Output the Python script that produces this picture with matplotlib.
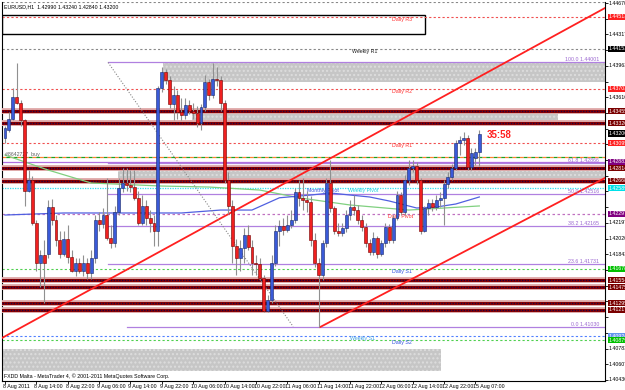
import numpy as np
import matplotlib
matplotlib.use('Agg')
import matplotlib.pyplot as plt
from matplotlib import font_manager
from matplotlib.patches import Rectangle
from matplotlib.transforms import blended_transform_factory

# narrow face for the small MT4 texts, if there is one
installed = {f.name for f in font_manager.fontManager.ttflist}
if 'Liberation Sans Narrow' in installed:
    small_family, fs = 'Liberation Sans Narrow', 4.6
else:
    small_family, fs = 'Liberation Sans', 3.8
plt.rcParams['font.family'] = [small_family, 'DejaVu Sans']

# EURUSD H1 bars, bar 0 = 8 Aug 2011 06:00
opens = [1.4315, 1.4324, 1.4337, 1.4361, 1.4355, 1.4335, 1.4256, 1.4268, 1.4220, 1.4175,
         1.4183, 1.4185, 1.4237, 1.4223, 1.4200, 1.4185, 1.4202, 1.4181, 1.4166, 1.4174,
         1.4166, 1.4175, 1.4163, 1.4180, 1.4223, 1.4218, 1.4229, 1.4203, 1.4197, 1.4232,
         1.4259, 1.4265, 1.4262, 1.4260, 1.4248, 1.4220, 1.4239, 1.4225, 1.4220, 1.4211,
         1.4371, 1.4389, 1.4380, 1.4353, 1.4363, 1.4344, 1.4341, 1.4352, 1.4346, 1.4343,
         1.4332, 1.4350, 1.4378, 1.4363, 1.4382, 1.4380, 1.4354, 1.4268, 1.4239, 1.4194,
         1.4180, 1.4191, 1.4206, 1.4192, 1.4175, 1.4173, 1.4158, 1.4121, 1.4133, 1.4174,
         1.4211, 1.4216, 1.4212, 1.4217, 1.4223, 1.4254, 1.4248, 1.4245, 1.4243, 1.4200,
         1.4175, 1.4161, 1.4197, 1.4265, 1.4236, 1.4211, 1.4208, 1.4214, 1.4228, 1.4237,
         1.4234, 1.4223, 1.4215, 1.4197, 1.4187, 1.4203, 1.4185, 1.4197, 1.4215, 1.4200,
         1.4225, 1.4251, 1.4232, 1.4268, 1.4281, 1.4284, 1.4268, 1.4211, 1.4236, 1.4242,
         1.4237, 1.4245, 1.4248, 1.4263, 1.4271, 1.4281, 1.4309, 1.4313, 1.4315, 1.4282,
         1.4293, 1.4299]
highs = [1.4329, 1.4344, 1.4371, 1.4400, 1.4358, 1.4337, 1.4279, 1.4272, 1.4223, 1.4189,
         1.4200, 1.4245, 1.4247, 1.4228, 1.4211, 1.4211, 1.4217, 1.4189, 1.4180, 1.4180,
         1.4183, 1.4180, 1.4189, 1.4228, 1.4232, 1.4236, 1.4270, 1.4217, 1.4239, 1.4270,
         1.4281, 1.4281, 1.4279, 1.4279, 1.4256, 1.4251, 1.4245, 1.4234, 1.4228, 1.4374,
         1.4395, 1.4393, 1.4385, 1.4374, 1.4369, 1.4360, 1.4360, 1.4358, 1.4354, 1.4351,
         1.4353, 1.4386, 1.4382, 1.4399, 1.4395, 1.4385, 1.4358, 1.4277, 1.4245, 1.4202,
         1.4200, 1.4214, 1.4217, 1.4200, 1.4183, 1.4180, 1.4161, 1.4138, 1.4183, 1.4217,
         1.4223, 1.4225, 1.4228, 1.4234, 1.4259, 1.4268, 1.4270, 1.4256, 1.4250, 1.4208,
         1.4180, 1.4200, 1.4270, 1.4290, 1.4239, 1.4220, 1.4220, 1.4234, 1.4245, 1.4251,
         1.4240, 1.4228, 1.4220, 1.4202, 1.4209, 1.4205, 1.4200, 1.4220, 1.4218, 1.4229,
         1.4256, 1.4254, 1.4273, 1.4290, 1.4290, 1.4288, 1.4270, 1.4239, 1.4247, 1.4247,
         1.4251, 1.4254, 1.4268, 1.4277, 1.4286, 1.4313, 1.4317, 1.4322, 1.4319, 1.4304,
         1.4304, 1.4324]
lows = [1.4310, 1.4322, 1.4335, 1.4353, 1.4329, 1.4239, 1.4254, 1.4217, 1.4166, 1.4147,
        1.4130, 1.4180, 1.4217, 1.4194, 1.4180, 1.4182, 1.4175, 1.4164, 1.4160, 1.4163,
        1.4160, 1.4157, 1.4157, 1.4175, 1.4211, 1.4214, 1.4200, 1.4191, 1.4193, 1.4228,
        1.4254, 1.4256, 1.4254, 1.4245, 1.4217, 1.4217, 1.4217, 1.4209, 1.4194, 1.4194,
        1.4367, 1.4376, 1.4349, 1.4335, 1.4337, 1.4335, 1.4337, 1.4342, 1.4337, 1.4328,
        1.4324, 1.4346, 1.4358, 1.4360, 1.4374, 1.4346, 1.4265, 1.4230, 1.4175, 1.4161,
        1.4166, 1.4175, 1.4189, 1.4161, 1.4161, 1.4155, 1.4119, 1.4119, 1.4129, 1.4171,
        1.4194, 1.4206, 1.4209, 1.4214, 1.4220, 1.4239, 1.4234, 1.4232, 1.4194, 1.4170,
        1.4102, 1.4155, 1.4193, 1.4232, 1.4207, 1.4205, 1.4205, 1.4209, 1.4223, 1.4228,
        1.4218, 1.4211, 1.4193, 1.4183, 1.4183, 1.4180, 1.4182, 1.4193, 1.4197, 1.4197,
        1.4223, 1.4228, 1.4228, 1.4262, 1.4277, 1.4263, 1.4207, 1.4209, 1.4229, 1.4233,
        1.4234, 1.4238, 1.4217, 1.4259, 1.4268, 1.4279, 1.4296, 1.4307, 1.4279, 1.4279,
        1.4285, 1.4284]
closes = [1.4326, 1.4337, 1.4361, 1.4355, 1.4335, 1.4256, 1.4268, 1.4220, 1.4175, 1.4183,
          1.4175, 1.4237, 1.4223, 1.4200, 1.4185, 1.4202, 1.4181, 1.4166, 1.4174, 1.4166,
          1.4175, 1.4163, 1.4180, 1.4223, 1.4218, 1.4229, 1.4203, 1.4197, 1.4232, 1.4259,
          1.4265, 1.4262, 1.4260, 1.4248, 1.4220, 1.4239, 1.4225, 1.4220, 1.4211, 1.4371,
          1.4389, 1.4380, 1.4353, 1.4363, 1.4344, 1.4341, 1.4352, 1.4346, 1.4343, 1.4332,
          1.4350, 1.4378, 1.4363, 1.4382, 1.4380, 1.4354, 1.4268, 1.4239, 1.4194, 1.4180,
          1.4191, 1.4206, 1.4192, 1.4175, 1.4173, 1.4158, 1.4121, 1.4133, 1.4174, 1.4211,
          1.4216, 1.4212, 1.4217, 1.4223, 1.4254, 1.4248, 1.4245, 1.4243, 1.4200, 1.4175,
          1.4161, 1.4197, 1.4265, 1.4236, 1.4211, 1.4208, 1.4214, 1.4228, 1.4237, 1.4234,
          1.4223, 1.4215, 1.4197, 1.4187, 1.4203, 1.4185, 1.4197, 1.4215, 1.4200, 1.4225,
          1.4251, 1.4232, 1.4268, 1.4281, 1.4284, 1.4268, 1.4211, 1.4236, 1.4242, 1.4237,
          1.4245, 1.4248, 1.4263, 1.4271, 1.4281, 1.4309, 1.4313, 1.4315, 1.4282, 1.4298,
          1.4299, 1.4320]

# moving averages (bar index, price)
ma_blue_x = [0, 15, 30, 45, 55, 63, 70, 78, 83, 88, 93, 98, 102, 105, 110, 115, 121]
ma_blue_y = [1.42285, 1.42308, 1.42308, 1.42308, 1.42341, 1.42341, 1.42479, 1.42510, 1.42533,
             1.42510, 1.42488, 1.42443, 1.42398, 1.42364, 1.42375, 1.42409, 1.42488]
ma_green_x = [0, 11, 22, 40, 52, 65, 75, 88, 103, 121]
ma_green_y = [1.42960, 1.42791, 1.42645, 1.42611, 1.42600, 1.42566, 1.42479, 1.42398, 1.42341, 1.42387]

# pivot levels
daily_r3, daily_r2, daily_r1 = 1.44513, 1.43703, 1.43095
daily_pivot, daily_s1, daily_s2 = 1.42297, 1.41678, 1.40879
weekly_r1, weekly_pivot, weekly_s1 = 1.44153, 1.42589, 1.40924
order_price = 1.42938
top_level = 1.44682
purple_level = 1.42882
zone_lines = [1.43455, 1.43320, 1.42814, 1.42668, 1.41554, 1.41475, 1.41295, 1.41217]

# fibonacci retracement
fib_names = ['100.0', '61.8', '50.0', '38.2', '23.6', '0.0']
fib_prices = [1.44001, 1.42866, 1.42516, 1.42165, 1.41731, 1.41030]
fib_start = [26.3, 26.3, 26.3, 26.3, 26.3, 31.1]

# rectangles: (bar from, bar to, price low, price high)
zones = [(40.3, 153.1, 1.43782, 1.44001),
         (47.7, 141.1, 1.43320, 1.43455),
         (28.8, 153.1, 1.42668, 1.42814),
         (-0.8, 111.2, 1.40530, 1.40778)]
r3_box = (-0.8, 107.1, 1.44322, 1.44535)

# trend lines: (bar, price) pairs
channel_upper = ([-0.77, 153.06], [1.40902, 1.44614])
channel_lower = ([80.4, 153.06], [1.41025, 1.42702])
fib_diag = ([26.3, 73.5], [1.44001, 1.41030])

# axes labels
price_ticks = [1.44670, 1.44493, 1.44317, 1.44140, 1.43963, 1.43787, 1.43610, 1.43433, 1.43257,
               1.43080, 1.42903, 1.42727, 1.42550, 1.42373, 1.42197, 1.42020, 1.41843, 1.41667,
               1.41490, 1.41313, 1.41137, 1.40960, 1.40783, 1.40607, 1.40430]
time_ticks = [0, 8, 16, 24, 32, 40, 48, 56, 64, 72, 80, 88, 96, 104, 112, 120]
time_labels = ['8 Aug 2011', '8 Aug 14:00', '8 Aug 22:00', '9 Aug 06:00', '9 Aug 14:00',
               '9 Aug 22:00', '10 Aug 06:00', '10 Aug 14:00', '10 Aug 22:00', '11 Aug 06:00',
               '11 Aug 14:00', '11 Aug 22:00', '12 Aug 06:00', '12 Aug 14:00', '12 Aug 22:00',
               '15 Aug 07:00']
marker_prices = [daily_r3, weekly_r1, daily_r2, 1.43455, 1.43320, closes[-1], daily_r1,
                 purple_level, 1.42814, 1.42668, weekly_pivot, daily_pivot, daily_s1,
                 1.41554, 1.41475, 1.41295, 1.41217, weekly_s1, daily_s2]
marker_colors = ['#ff2020', '#000000', '#ff2020', '#7a0000', '#7a0000', '#000000', '#ff2020',
                 '#800080', '#7a0000', '#7a0000', '#00e0e8', '#800080', '#00c000',
                 '#7a0000', '#7a0000', '#7a0000', '#7a0000', '#6495ed', '#00c000']

title = 'EURUSD,H1  1.42990 1.43240 1.42840 1.43200'

fig = plt.figure(figsize=(6.25, 3.90), dpi=100)
ax = fig.add_axes([2 / 625, 9 / 390, 603 / 625, 379 / 390])
ax.set_xlim(-0.77, 153.06)
ax.set_ylim(1.404178, 1.446815)

# rectangles
for x0, x1, p0, p1 in zones:
    ax.add_patch(Rectangle((x0, p0), x1 - x0, p1 - p0, facecolor='#c6c6c6',
                           edgecolor='#dddddd', hatch='....', linewidth=0, zorder=1))
ax.add_patch(Rectangle((r3_box[0], r3_box[2]), r3_box[1] - r3_box[0], r3_box[3] - r3_box[2],
                       facecolor='white', edgecolor='black', linewidth=1.0, zorder=2))

# horizontal levels
dash = (0, (2, 2))
ax.axhline(top_level, color='#888888', lw=0.8, ls=dash, zorder=2)
ax.axhline(weekly_r1, color='#888888', lw=0.8, ls=dash, zorder=2)
for p in [daily_r3, daily_r2, daily_r1]:
    ax.axhline(p, color='#f05050', lw=0.8, ls=dash, zorder=2)
ax.axhline(order_price, color='#ff8030', lw=0.9, ls=(0, (3, 3)), zorder=2)
ax.axhline(order_price, color='#20a020', lw=0.9, ls=(3, (3, 3)), zorder=2)
ax.axhline(purple_level, color='#b070e0', lw=0.9, zorder=2)
ax.axhline(weekly_pivot, color='#30e0f0', lw=0.9, ls=(0, (1, 1)), zorder=2)
ax.axhline(daily_pivot, color='#c070c0', lw=0.9, ls=dash, zorder=2)
ax.axhline(daily_s1, color='#50d050', lw=0.8, ls=dash, zorder=2)
ax.axhline(daily_s2, color='#50d050', lw=0.8, ls=dash, zorder=2)
ax.axhline(weekly_s1, color='#5080ff', lw=0.8, ls=dash, zorder=2)
for p in zone_lines:
    ax.axhline(p, color='#e0aaaa', lw=4.2, zorder=3)
    ax.axhline(p, color='#8b0000', lw=2.2, zorder=3)
    ax.axhline(p, color='#200040', lw=1.0, ls=(0, (1, 1)), zorder=3)

for name, p, xs in zip(fib_names, fib_prices, fib_start):
    ax.plot([xs, 153.06], [p, p], color='#b080e0', lw=0.9, zorder=2)
    ax.text(151.5, p, name + ' ' + format(p, '.5f'), color='#9a66d0', fontsize=fs,
            ha='right', va='bottom', zorder=6)

# level captions
ax.text(98.7, daily_r3, 'Daily R3', color='#ff3030', fontsize=fs, va='top', zorder=6)
ax.text(88.5, weekly_r1, 'Weekly R1', color='#202020', fontsize=fs, va='top', zorder=6)
ax.text(98.7, daily_r2, 'Daily R2', color='#ff3030', fontsize=fs, va='top', zorder=6)
ax.text(98.7, daily_r1, 'Daily R1', color='#ff3030', fontsize=fs, va='top', zorder=6)
ax.text(77.0, 1.42566, 'Monthly Pivot', color='#3050e0', fontsize=fs, va='center', zorder=6)
ax.text(87.5, 1.42566, 'Weekly Pivot', color='#20d0e0', fontsize=fs, va='center', zorder=6)
ax.text(97.7, daily_pivot, 'Daily Pivot', color='#ff3030', fontsize=fs, va='top', zorder=6)
ax.text(98.7, daily_s1, 'Daily S1', color='#3050e0', fontsize=fs, va='top', zorder=6)
ax.text(88.0, weekly_s1, 'Weekly S1', color='#40a0e0', fontsize=fs, va='top', zorder=6)
ax.text(98.7, daily_s2, 'Daily S2', color='#3050e0', fontsize=fs, va='top', zorder=6)
ax.text(0.0, order_price, '#8642727  buy', color='#606060', fontsize=fs, va='bottom', zorder=6)

# moving averages
ax.plot(ma_green_x, ma_green_y, color='#80d080', lw=0.9, zorder=4)
ax.plot(ma_blue_x, ma_blue_y, color='#5060e0', lw=0.9, zorder=4)

# trend lines
ax.plot(*channel_upper, color='#ff2020', lw=1.3, zorder=5)
ax.plot(*channel_lower, color='#ff2020', lw=1.3, zorder=5)
ax.plot(*fib_diag, color='#888888', lw=0.8, ls=(0, (1, 1.5)), zorder=5)

# candles
idx = np.arange(len(opens))
o = np.array(opens)
c = np.array(closes)
up = c >= o
ax.vlines(idx, lows, highs, color='#909090', lw=0.8, zorder=6)
ax.bar(idx[up], (c - o)[up], bottom=o[up], width=0.75, color='#3a5ad8',
       edgecolor='#18286a', linewidth=0.4, zorder=7)
ax.bar(idx[~up], (o - c)[~up], bottom=c[~up], width=0.75, color='#f02020',
       edgecolor='#700000', linewidth=0.4, zorder=7)

ax.text(123, 1.4318, '35:58', color='#ff2020', fontsize=7, fontweight='bold',
        family='Liberation Sans', va='center', zorder=8)

# frame and axes
for s in ['left', 'right', 'bottom']:
    ax.spines[s].set_linewidth(0.8)
ax.spines['top'].set_visible(False)
ax.yaxis.tick_right()
ax.set_yticks(price_ticks)
ax.set_yticklabels([])
ax.set_xticks(time_ticks)
ax.set_xticklabels([])
ax.tick_params(axis='both', length=2, width=0.6, direction='out')

ytr = blended_transform_factory(ax.transAxes, ax.transData)
for p in price_ticks:
    if min(abs(p - m) for m in marker_prices) < 0.0009:
        continue
    ax.text(1.006, p, format(p, '.5f'), transform=ytr, fontsize=fs, va='center',
            ha='left', clip_on=False)
for p, col in zip(marker_prices, marker_colors):
    ax.text(1.006, p, format(p, '.5f'), transform=ytr, fontsize=fs, va='center',
            ha='left', color='white', clip_on=False, zorder=9,
            bbox=dict(boxstyle='square,pad=0.18', fc=col, ec='none'))

xtr = blended_transform_factory(ax.transData, ax.transAxes)
for k, lab in zip(time_ticks, time_labels):
    ax.text(k - 0.5, -0.009, lab, transform=xtr, fontsize=fs, va='top', ha='left',
            clip_on=False)

ax.text(0.003, 0.995, title, transform=ax.transAxes, fontsize=fs, va='top', ha='left', zorder=9)
ax.text(0.003, 0.006, 'FXDD Malta - MetaTrader 4, \u00a9 2001-2011 MetaQuotes Software Corp.',
        transform=ax.transAxes, fontsize=fs, va='bottom', ha='left', zorder=9)

fig.savefig('out.png', dpi=100)
